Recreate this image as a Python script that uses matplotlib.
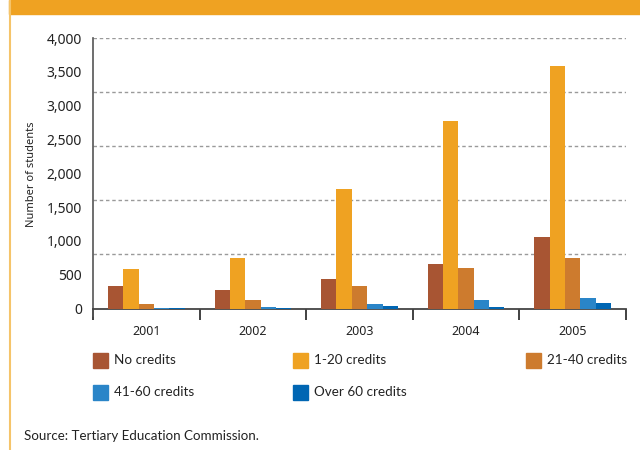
import matplotlib
matplotlib.use("Agg")
import matplotlib.pyplot as plt
from matplotlib.patches import Rectangle
from matplotlib.lines import Line2D
import numpy as np

plt.rcParams['font.family'] = ['Noto Sans', 'DejaVu Sans']

# data
years = ["2001", "2002", "2003", "2004", "2005"]
series = ["No credits", "1-20 credits", "21-40 credits", "41-60 credits", "Over 60 credits"]
no_credits = [335, 275, 440, 665, 1055]
c1_20 = [585, 750, 1760, 2780, 3590]
c21_40 = [68, 130, 335, 605, 745]
c41_60 = [10, 25, 70, 130, 153]
over60 = [6, 10, 40, 25, 80]
values = [no_credits, c1_20, c21_40, c41_60, over60]
colors = ["#A85533", "#EFA222", "#CD7B2E", "#2A85C8", "#0066B3"]

ytick_vals = list(range(0, 4001, 500))
grid_vals = [800, 1600, 2400, 3200, 4000]

fig = plt.figure(figsize=(6.4, 4.5), dpi=100)
ax = fig.add_axes([93/640, 1 - 308.5/450, 533/640, 270.5/450])

x = np.arange(len(years))
w = 0.144
for i, (vals, col) in enumerate(zip(values, colors)):
    ax.bar(x + (i - 2) * w, vals, width=w, color=col, zorder=3)

for g in grid_vals:
    ax.axhline(g, color="#9a9a9a", lw=1, ls=(0, (2.5, 2)), zorder=1)

ax.set_xlim(-0.5, 4.5)
ax.set_ylim(0, 4000)

ax.set_yticks(ytick_vals)
ax.set_yticklabels([f"{v:,}" for v in ytick_vals], fontsize=10, color="#222222")
ax.tick_params(axis="y", length=0, pad=8)

ax.set_xticks(np.arange(-0.5, 5, 1))
ax.set_xticklabels([])
ax.set_xticks(x, minor=True)
ax.set_xticklabels(years, minor=True, fontsize=9, color="#222222")
ax.tick_params(axis="x", which="major", length=8, width=1.3, color="#333333", direction="out")
ax.tick_params(axis="x", which="minor", length=0, pad=12)

for s in ["top", "right"]:
    ax.spines[s].set_visible(False)
ax.spines["bottom"].set_color("#444444")
ax.spines["bottom"].set_linewidth(1.3)
ax.spines["left"].set_color("#555555")
ax.spines["left"].set_linewidth(1.2)
# left axis line runs a little below zero
ax.plot([-0.5, -0.5], [0, -7 / 270.5 * 4000], color="#555555", lw=1.2, clip_on=False)

fig.text(32/640, 1 - 174/450, "Number of students", rotation=90, fontsize=8,
         ha="center", va="center", color="#222222")

# header band and frame line
fig.patches.append(Rectangle((9/640, 1 - 14/450), 1, 14/450, transform=fig.transFigure,
                             color="#EFA222", zorder=0))
fig.add_artist(Line2D([9.5/640, 9.5/640], [0, 1], transform=fig.transFigure,
                      color="#F5C46A", lw=1.5))

# legend
leg_pos = [(93, 360), (293, 360), (526, 360), (93, 392), (293, 392)]
for (lx, ly), name, col in zip(leg_pos, series, colors):
    fig.patches.append(Rectangle((lx/640, 1 - (ly + 7.5)/450), 15/640, 15/450,
                                 transform=fig.transFigure, color=col))
    fig.text((lx + 21)/640, 1 - ly/450, name, fontsize=9.7, va="center", color="#222222",
             family=["Lato", "DejaVu Sans"])

fig.text(24/640, 1 - 436/450, "Source: Tertiary Education Commission.", fontsize=9.6,
         va="center", color="#222222", family=["Lato", "DejaVu Sans"])

fig.savefig("out.png", dpi=100)
